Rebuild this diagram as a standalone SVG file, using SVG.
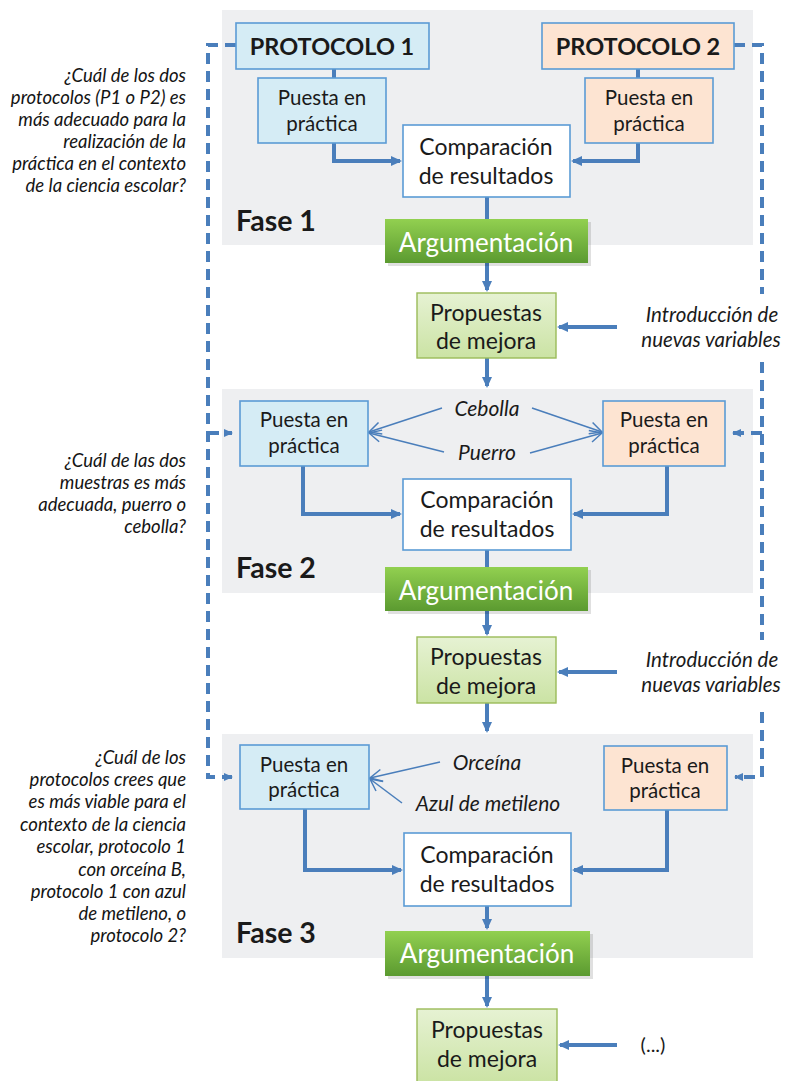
<svg xmlns="http://www.w3.org/2000/svg" width="788" height="1081" viewBox="0 0 788 1081">
<defs>
<style>
text{font-family:Lato,"Open Sans","DejaVu Sans",sans-serif;fill:#1a1a1a}
.panel{fill:#eeeff1}
.fase{font-size:28.5px;font-weight:700}
.bl{fill:#d5ecf5;stroke:#5b9bd5;stroke-width:1.6}
.pe{fill:#fde4d2;stroke:#5b9bd5;stroke-width:1.6}
.wh{fill:#ffffff;stroke:#5b9bd5;stroke-width:1.6}
.pr{fill:url(#gl);stroke:#9bbb59;stroke-width:1.4}
.ar{fill:url(#gd)}
.t-proto{font-size:23.5px;font-weight:700;text-anchor:middle}
.t-pu{font-size:20.5px;text-anchor:middle}
.t-co{font-size:23px;text-anchor:middle}
.t-ar{font-size:26px;text-anchor:middle;fill:#ffffff}
.t-q{font-size:18.5px;font-style:italic;text-anchor:end;fill:#141414}
.t-in{font-size:20.5px;font-style:italic;text-anchor:middle}
.t-var{font-size:21px;font-style:italic;text-anchor:middle}
.c{fill:none;stroke:#4a7ebb;stroke-width:4}
.thin{fill:none;stroke:#4a7ebb;stroke-width:1.5}
.dash{fill:none;stroke:#4a7ebb;stroke-width:4;stroke-dasharray:11 7}
</style>
<linearGradient id="gd" x1="0" y1="0" x2="0" y2="1">
<stop offset="0" stop-color="#92d050"/>
<stop offset="1" stop-color="#5b9a30"/>
</linearGradient>
<linearGradient id="gl" x1="0" y1="0" x2="0" y2="1">
<stop offset="0" stop-color="#e6f2d3"/>
<stop offset="1" stop-color="#cbe3a4"/>
</linearGradient>
<marker id="ah" markerUnits="userSpaceOnUse" markerWidth="12" markerHeight="12" viewBox="0 0 12 12" refX="9" refY="6" orient="auto">
<path d="M0,1 L11,6 L0,11 z" fill="#4a7ebb"/>
</marker>
<marker id="ahs" markerUnits="userSpaceOnUse" markerWidth="10" markerHeight="10" viewBox="0 0 10 10" refX="8" refY="5" orient="auto">
<path d="M0,1 L9,5 L0,9 z" fill="#4a7ebb"/>
</marker>
<marker id="chev" markerUnits="userSpaceOnUse" markerWidth="14" markerHeight="14" viewBox="0 0 14 14" refX="13" refY="7" orient="auto">
<path d="M1,1 L13,7 L1,13" fill="none" stroke="#4a7ebb" stroke-width="1.5"/>
</marker>
</defs>

<g id="panel1">
<rect class="panel" x="222" y="10" width="531" height="235"/>
<text class="fase" x="236" y="231">Fase 1</text>
</g>
<g id="panel2">
<rect class="panel" x="222" y="389" width="531" height="204"/>
<text class="fase" x="236" y="578">Fase 2</text>
</g>
<g id="panel3">
<rect class="panel" x="222" y="734" width="531" height="224"/>
<text class="fase" x="236" y="943">Fase 3</text>
</g>

<g id="connectors">
<path class="dash" d="M236,45 H208 V777 H232" marker-end="url(#ahs)"/>
<path class="dash" d="M208,433 H232" marker-end="url(#ahs)"/>
<path class="dash" d="M734,45 H762 V294"/>
<path class="dash" d="M762,362 V640"/>
<path class="dash" d="M762,712 V777 H735" marker-end="url(#ahs)"/>
<path class="dash" d="M762,433 H733" marker-end="url(#ahs)"/>

<path class="c" d="M334,69 V78"/>
<path class="c" d="M638,69 V78"/>
<path class="c" d="M334,143 V161 H400" marker-end="url(#ah)"/>
<path class="c" d="M638,143 V161 H573" marker-end="url(#ah)"/>
<path class="c" d="M487,197 V220"/>
<path class="c" d="M487,263 V290" marker-end="url(#ah)"/>
<path class="c" d="M617,327 H559" marker-end="url(#ah)"/>
<path class="c" d="M487,358 V386" marker-end="url(#ah)"/>

<path class="thin" d="M442,408 L369,432" marker-end="url(#chev)"/>
<path class="thin" d="M444,452 L369,433" marker-end="url(#chev)"/>
<path class="thin" d="M532,408 L602,432" marker-end="url(#chev)"/>
<path class="thin" d="M530,453 L602,433" marker-end="url(#chev)"/>
<path class="c" d="M303,466 V514 H400" marker-end="url(#ah)"/>
<path class="c" d="M667,466 V514 H574" marker-end="url(#ah)"/>
<path class="c" d="M487,550 V567"/>
<path class="c" d="M487,610 V634" marker-end="url(#ah)"/>
<path class="c" d="M617,672 H559" marker-end="url(#ah)"/>
<path class="c" d="M487,703 V731" marker-end="url(#ah)"/>

<path class="thin" d="M440,762 L370,778" marker-end="url(#chev)"/>
<path class="thin" d="M402,803 L370,779" marker-end="url(#chev)"/>
<path class="c" d="M305,809 V870 H401" marker-end="url(#ah)"/>
<path class="c" d="M667,810 V870 H574" marker-end="url(#ah)"/>
<path class="c" d="M487,906 V928" marker-end="url(#ah)"/>
<path class="c" d="M487,976 V1006" marker-end="url(#ah)"/>
<path class="c" d="M617,1045 H560" marker-end="url(#ah)"/>
</g>

<g id="q1">
<text class="t-q" x="186" y="82">¿Cuál de los dos</text>
<text class="t-q" x="186" y="104">protocolos (P1 o P2) es</text>
<text class="t-q" x="186" y="126">más adecuado para la</text>
<text class="t-q" x="186" y="148">realización de la</text>
<text class="t-q" x="186" y="170">práctica en el contexto</text>
<text class="t-q" x="186" y="192">de la ciencia escolar?</text>
</g>
<g id="q2">
<text class="t-q" x="186" y="467">¿Cuál de las dos</text>
<text class="t-q" x="186" y="489">muestras es más</text>
<text class="t-q" x="186" y="511">adecuada, puerro o</text>
<text class="t-q" x="186" y="533">cebolla?</text>
</g>
<g id="q3">
<text class="t-q" x="186" y="764">¿Cuál de los</text>
<text class="t-q" x="186" y="786">protocolos crees que</text>
<text class="t-q" x="186" y="808">es más viable para el</text>
<text class="t-q" x="186" y="831">contexto de la ciencia</text>
<text class="t-q" x="186" y="853">escolar, protocolo 1</text>
<text class="t-q" x="186" y="876">con orceína B,</text>
<text class="t-q" x="186" y="898">protocolo 1 con azul</text>
<text class="t-q" x="186" y="920">de metileno, o</text>
<text class="t-q" x="186" y="942">protocolo 2?</text>
</g>

<g id="protocolo1">
<rect class="bl" x="236" y="23" width="193" height="46"/>
<text class="t-proto" x="332" y="55">PROTOCOLO 1</text>
</g>
<g id="protocolo2">
<rect class="pe" x="542" y="23" width="192" height="46"/>
<text class="t-proto" x="638" y="55">PROTOCOLO 2</text>
</g>
<g id="f1-puesta1">
<rect class="bl" x="258" y="78" width="128" height="65"/>
<text class="t-pu" x="322" y="105">Puesta en</text>
<text class="t-pu" x="322" y="131">práctica</text>
</g>
<g id="f1-puesta2">
<rect class="pe" x="585" y="78" width="128" height="65"/>
<text class="t-pu" x="649" y="105">Puesta en</text>
<text class="t-pu" x="649" y="131">práctica</text>
</g>
<g id="f1-comparacion">
<rect class="wh" x="403" y="125" width="167" height="72"/>
<text class="t-co" x="486" y="155">Comparación</text>
<text class="t-co" x="486" y="184">de resultados</text>
</g>
<g id="f1-argumentacion">
<rect x="388" y="222" width="203" height="44" fill="#000" opacity="0.12"/>
<rect class="ar" x="385" y="219" width="203" height="44"/>
<text class="t-ar" x="486" y="252">Argumentación</text>
</g>
<g id="f1-propuestas">
<rect class="pr" x="417" y="293" width="139" height="65"/>
<text class="t-co" x="486" y="321">Propuestas</text>
<text class="t-co" x="486" y="349">de mejora</text>
</g>
<g id="f1-intro">
<text class="t-in" x="712" y="322">Introducción de</text>
<text class="t-in" x="711" y="347">nuevas variables</text>
</g>

<g id="f2-puesta1">
<rect class="bl" x="240" y="401" width="128" height="65"/>
<text class="t-pu" x="304" y="427">Puesta en</text>
<text class="t-pu" x="304" y="453">práctica</text>
</g>
<g id="f2-puesta2">
<rect class="pe" x="603" y="401" width="122" height="65"/>
<text class="t-pu" x="664" y="427">Puesta en</text>
<text class="t-pu" x="664" y="453">práctica</text>
</g>
<g id="f2-cebolla"><text class="t-var" x="487" y="416">Cebolla</text></g>
<g id="f2-puerro"><text class="t-var" x="487" y="460">Puerro</text></g>
<g id="f2-comparacion">
<rect class="wh" x="403" y="479" width="168" height="71"/>
<text class="t-co" x="487" y="508">Comparación</text>
<text class="t-co" x="487" y="537">de resultados</text>
</g>
<g id="f2-argumentacion">
<rect x="388" y="570" width="203" height="44" fill="#000" opacity="0.12"/>
<rect class="ar" x="385" y="567" width="203" height="44"/>
<text class="t-ar" x="486" y="600">Argumentación</text>
</g>
<g id="f2-propuestas">
<rect class="pr" x="417" y="637" width="139" height="66"/>
<text class="t-co" x="486" y="665">Propuestas</text>
<text class="t-co" x="486" y="694">de mejora</text>
</g>
<g id="f2-intro">
<text class="t-in" x="712" y="667">Introducción de</text>
<text class="t-in" x="711" y="692">nuevas variables</text>
</g>

<g id="f3-puesta1">
<rect class="bl" x="240" y="745" width="129" height="64"/>
<text class="t-pu" x="304" y="772">Puesta en</text>
<text class="t-pu" x="304" y="797">práctica</text>
</g>
<g id="f3-puesta2">
<rect class="pe" x="604" y="746" width="123" height="64"/>
<text class="t-pu" x="665" y="773">Puesta en</text>
<text class="t-pu" x="665" y="798">práctica</text>
</g>
<g id="f3-orceina"><text class="t-var" x="487" y="770">Orceína</text></g>
<g id="f3-azul"><text class="t-var" x="488" y="811">Azul de metileno</text></g>
<g id="f3-comparacion">
<rect class="wh" x="404" y="833" width="167" height="73"/>
<text class="t-co" x="487" y="863">Comparación</text>
<text class="t-co" x="487" y="892">de resultados</text>
</g>
<g id="f3-argumentacion">
<rect x="388" y="934" width="205" height="45" fill="#000" opacity="0.12"/>
<rect class="ar" x="385" y="931" width="205" height="45"/>
<text class="t-ar" x="487" y="963">Argumentación</text>
</g>
<g id="f3-propuestas">
<rect class="pr" x="417" y="1009" width="140" height="74"/>
<text class="t-co" x="487" y="1038">Propuestas</text>
<text class="t-co" x="487" y="1067">de mejora</text>
</g>
<g id="f3-etc">
<text x="653" y="1052" style="font-size:20px;text-anchor:middle">(...)</text>
</g>
</svg>
